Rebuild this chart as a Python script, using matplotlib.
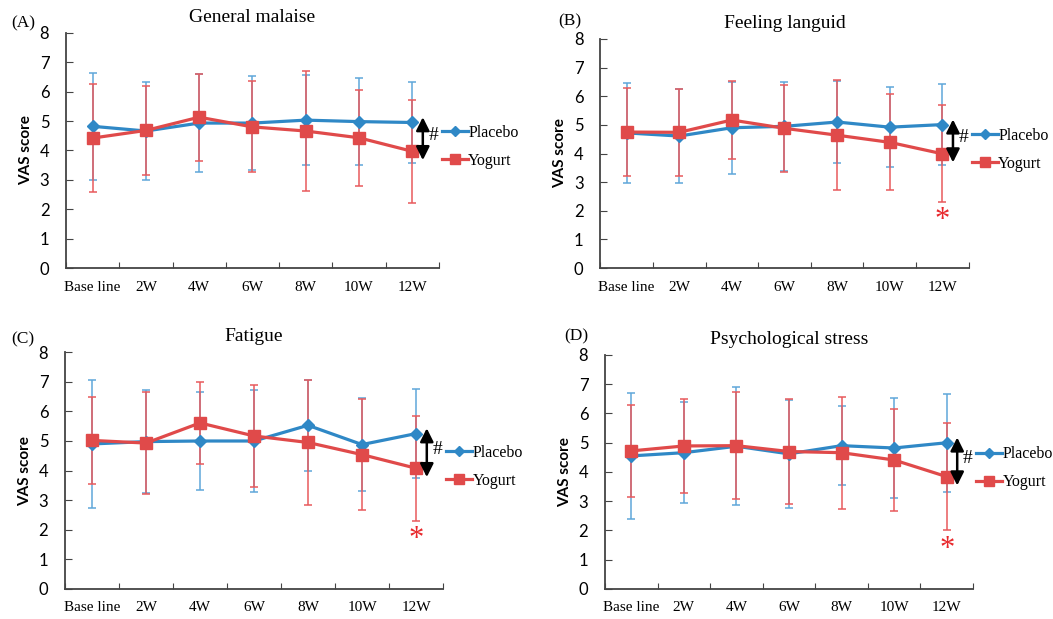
import matplotlib.pyplot as plt
from matplotlib.ticker import FixedLocator, NullFormatter

# Zaman noktaları
CATEGORIES = ["Base line", "2W", "4W", "6W", "8W", "10W", "12W"]

# (A) General malaise
A_PLACEBO = [4.82, 4.66, 4.93, 4.93, 5.03, 4.98, 4.95]
A_PLACEBO_SD = [1.82, 1.67, 1.66, 1.60, 1.52, 1.48, 1.39]
A_YOGURT = [4.42, 4.68, 5.13, 4.80, 4.66, 4.43, 3.97]
A_YOGURT_SD = [1.85, 1.51, 1.48, 1.55, 2.05, 1.63, 1.75]

# (B) Feeling languid
B_PLACEBO = [4.72, 4.61, 4.90, 4.95, 5.10, 4.92, 5.01]
B_PLACEBO_SD = [1.76, 1.65, 1.60, 1.56, 1.43, 1.39, 1.42]
B_YOGURT = [4.75, 4.74, 5.17, 4.88, 4.64, 4.39, 3.99]
B_YOGURT_SD = [1.53, 1.52, 1.35, 1.53, 1.92, 1.68, 1.69]

# (C) Fatigue
C_PLACEBO = [4.90, 4.98, 5.00, 5.00, 5.53, 4.88, 5.25]
C_PLACEBO_SD = [2.17, 1.75, 1.65, 1.73, 1.53, 1.58, 1.50]
C_YOGURT = [5.02, 4.93, 5.61, 5.17, 4.95, 4.54, 4.08]
C_YOGURT_SD = [1.48, 1.71, 1.40, 1.72, 2.12, 1.87, 1.78]

# (D) Psychological stress
D_PLACEBO = [4.55, 4.66, 4.88, 4.62, 4.90, 4.82, 5.00]
D_PLACEBO_SD = [2.15, 1.73, 2.01, 1.85, 1.36, 1.70, 1.68]
D_YOGURT = [4.72, 4.89, 4.90, 4.70, 4.66, 4.41, 3.84]
D_YOGURT_SD = [1.56, 1.61, 1.84, 1.80, 1.91, 1.73, 1.83]

PANELS = [
    ("(A)", "General malaise", A_PLACEBO, A_PLACEBO_SD, A_YOGURT, A_YOGURT_SD, False),
    ("(B)", "Feeling languid", B_PLACEBO, B_PLACEBO_SD, B_YOGURT, B_YOGURT_SD, True),
    ("(C)", "Fatigue", C_PLACEBO, C_PLACEBO_SD, C_YOGURT, C_YOGURT_SD, True),
    ("(D)", "Psychological stress", D_PLACEBO, D_PLACEBO_SD, D_YOGURT, D_YOGURT_SD, True),
]

# Eksen konumları (figür oranı): left, bottom, width, height
AXES_RECTS = [
    (0.0627, 0.567, 0.354, 0.380),
    (0.570, 0.567, 0.350, 0.370),
    (0.0617, 0.0485, 0.359, 0.3825),
    (0.5745, 0.0485, 0.3495, 0.378),
]
LABEL_POS = [(0.011, 0.962), (0.530, 0.965), (0.011, 0.451), (0.536, 0.456)]

BLUE = "#2f88c6"
BLUE_ERR = "#5fa7da"
RED = "#e04a4a"
RED_ERR = "#e85a5c"
AXIS_COLOR = "#444444"
SERIF = "Liberation Serif"
SANS = "Lato"


def draw_panel(fig, rect, label, label_pos, title, placebo, placebo_sd,
               yogurt, yogurt_sd, star):
    ax = fig.add_axes(rect)
    x = list(range(len(CATEGORIES)))

    ax.errorbar(x, placebo, yerr=placebo_sd, fmt="none", ecolor=BLUE_ERR,
                elinewidth=1.1, capsize=3, capthick=1.1, zorder=2)
    ax.errorbar(x, yogurt, yerr=yogurt_sd, fmt="none", ecolor=RED_ERR,
                elinewidth=1.1, capsize=3, capthick=1.1, zorder=3)
    ax.plot(x, placebo, color=BLUE, linewidth=2.3, marker="D",
            markersize=6, label="Placebo", zorder=4)
    ax.plot(x, yogurt, color=RED, linewidth=2.3, marker="s",
            markersize=8.5, label="Yogurt", zorder=5)

    # 12W farkını gösteren çift yönlü ok ve işaret
    last = len(CATEGORIES) - 1
    ax.annotate(
        "",
        xy=(last + 0.2, placebo[last] + 0.18),
        xytext=(last + 0.2, yogurt[last] - 0.3),
        arrowprops=dict(arrowstyle="<|-|>", color="black", lw=1.8,
                        mutation_scale=20, shrinkA=0, shrinkB=0),
        annotation_clip=False,
        zorder=6,
    )
    ax.text(last + 0.4, (placebo[last] + yogurt[last]) / 2 + 0.05, "#",
            fontsize=14, family=SERIF, ha="center", va="center")
    if star:
        ax.text(last, yogurt[last] - yogurt_sd[last] - 0.15, "*",
                color="#e8282c", fontsize=22, family=SERIF,
                ha="center", va="top")

    ax.set_xlim(-0.5, len(CATEGORIES) - 0.5)
    ax.set_ylim(0, 8)
    ax.set_yticks(range(0, 9))
    ax.xaxis.set_major_locator(
        FixedLocator([i - 0.5 for i in range(len(CATEGORIES) + 1)]))
    ax.xaxis.set_major_formatter(NullFormatter())
    ax.xaxis.set_minor_locator(FixedLocator(x))
    ax.set_xticklabels(CATEGORIES, minor=True, family=SERIF, fontsize=11)
    ax.tick_params(axis="x", which="major", direction="in", length=4,
                   color=AXIS_COLOR)
    ax.tick_params(axis="x", which="minor", length=0, pad=9)
    ax.tick_params(axis="y", direction="in", length=5, pad=12,
                   color=AXIS_COLOR, labelsize=12)
    for tick in ax.get_yticklabels():
        tick.set_family(SANS)

    for side in ("top", "right"):
        ax.spines[side].set_visible(False)
    for side in ("left", "bottom"):
        ax.spines[side].set_color(AXIS_COLOR)
        ax.spines[side].set_linewidth(1.3)

    ax.set_ylabel("VAS score", family=SANS, fontsize=11, fontweight="bold",
                  labelpad=5)
    ax.set_title(title, family=SERIF, fontsize=14, pad=8)
    fig.text(label_pos[0], label_pos[1], label, family=SERIF, fontsize=12.5,
             va="center")

    ax.legend(loc="center left", bbox_to_anchor=(1.0, 0.515), frameon=False,
              prop={"family": SERIF, "size": 11.5}, handlelength=1.6,
              handletextpad=0.05, labelspacing=0.75, borderpad=0,
              borderaxespad=0.2, markerscale=0.85)
    return ax


def main() -> None:
    fig = plt.figure(figsize=(10.53, 6.19), dpi=100)
    for rect, pos, panel in zip(AXES_RECTS, LABEL_POS, PANELS):
        label, title, placebo, placebo_sd, yogurt, yogurt_sd, star = panel
        draw_panel(fig, rect, label, pos, title, placebo, placebo_sd,
                   yogurt, yogurt_sd, star)
    fig.savefig("out.png", dpi=100)
    plt.close(fig)


if __name__ == "__main__":
    main()
